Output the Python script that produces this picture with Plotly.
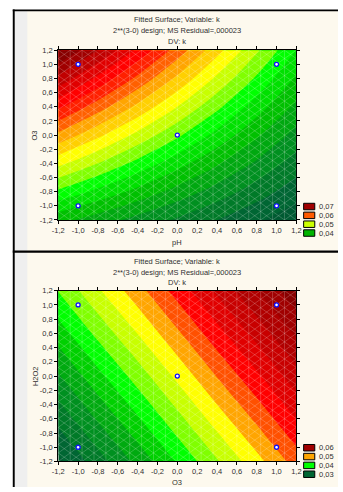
import plotly.graph_objects as go

W, H = 343, 492

# ---------------- data ----------------
grid_axis = [-1.2, -0.8, -0.4, 0.0, 0.4, 0.8, 1.2]

# fitted k over pH (columns) and O3 (rows, from O3=-1.2 up to 1.2)
k_ph_o3 = [
    [0.0408, 0.0387, 0.0366, 0.0346, 0.0325, 0.0304, 0.0283],
    [0.0470, 0.0443, 0.0417, 0.0390, 0.0364, 0.0337, 0.0311],
    [0.0532, 0.0500, 0.0467, 0.0435, 0.0403, 0.0371, 0.0338],
    [0.0594, 0.0556, 0.0518, 0.0480, 0.0442, 0.0404, 0.0366],
    [0.0656, 0.0612, 0.0569, 0.0525, 0.0481, 0.0437, 0.0394],
    [0.0718, 0.0669, 0.0619, 0.0570, 0.0520, 0.0471, 0.0421],
    [0.0780, 0.0725, 0.0670, 0.0614, 0.0559, 0.0504, 0.0449],
]

# fitted k over O3 (columns) and H2O2 (rows, from H2O2=-1.2 up to 1.2)
k_o3_h2o2 = [
    [0.0295, 0.0331, 0.0366, 0.0402, 0.0438, 0.0473, 0.0509],
    [0.0316, 0.0352, 0.0387, 0.0423, 0.0459, 0.0494, 0.0530],
    [0.0337, 0.0373, 0.0408, 0.0444, 0.0480, 0.0515, 0.0551],
    [0.0358, 0.0394, 0.0429, 0.0465, 0.0501, 0.0536, 0.0572],
    [0.0379, 0.0415, 0.0450, 0.0486, 0.0522, 0.0557, 0.0593],
    [0.0400, 0.0436, 0.0471, 0.0507, 0.0543, 0.0578, 0.0614],
    [0.0421, 0.0457, 0.0492, 0.0528, 0.0564, 0.0599, 0.0635],
]

design_x = [-1, -1, 0, 1, 1]
design_y = [-1, 1, 0, -1, 1]

tick_vals = [-1.2, -1.0, -0.8, -0.6, -0.4, -0.2, 0.0, 0.2, 0.4, 0.6, 0.8, 1.0, 1.2]
tick_text = ["-1,2", "-1,0", "-0,8", "-0,6", "-0,4", "-0,2", "0,0",
             "0,2", "0,4", "0,6", "0,8", "1,0", "1,2"]

top_levels = dict(start=0.030, end=0.0775, size=0.0025)
bottom_levels = dict(start=0.030, end=0.064, size=0.002)

legend_top_labels = ["0,07", "0,06", "0,05", "0,04"]
legend_bottom_labels = ["0,06", "0,05", "0,04", "0,03"]

title_lines = ["Fitted Surface; Variable: k",
               "2**(3-0) design; MS Residual=,000023",
               "DV: k"]

# ---------------- styles ----------------
top_band_colors = ["#005a32", "#006633", "#007a28", "#009020", "#00a810",
                   "#00c000", "#00e000", "#00ff00", "#80ff00", "#c8ff00",
                   "#ffff00", "#ffd000", "#ffa500", "#ff6000", "#ff2000",
                   "#ff0000", "#e00000", "#c00000", "#a00000", "#880000",
                   "#700000"]
bottom_band_colors = ["#005a32", "#006633", "#007a28", "#009020", "#00aa10",
                      "#00d000", "#00ff00", "#80ff00", "#c8ff00", "#ffff00",
                      "#ffa500", "#ff5000", "#ff0000", "#e00000", "#c80000",
                      "#b00000", "#a00000", "#880000", "#700000"]
legend_top_colors = ["#a00000", "#ff5a00", "#ccff00", "#00b400"]
legend_bottom_colors = ["#a00000", "#ffa500", "#00ff00", "#006633"]

FONT = "Liberation Sans, Arial, sans-serif"
TXT = "#303030"
CREAM = "#fdf9ee"


def band_scale(colors):
    n = len(colors) - 1
    return [[i / n, c] for i, c in enumerate(colors)]


def px(x):
    return x / W


def py(y):
    return 1 - y / H


# mesh overlay (decorative wireframe)
mesh_step = 0.12
mesh_n = 20
mx, my = [], []
for i in range(mesh_n + 1):
    v = -1.2 + i * mesh_step
    mx += [v, v, None]
    my += [-1.2, 1.2, None]
for k in range(-2 * mesh_n, 2 * mesh_n + 1):
    c = k * mesh_step
    mx += [-2.4, 2.4, None]
    my += [-2.4 + c, 2.4 + c, None]
    mx += [-2.4, 2.4, None]
    my += [2.4 + c, -2.4 + c, None]

fig = go.Figure()

panels = [
    dict(z=k_ph_o3, lv=top_levels, cols=top_band_colors, xa="x", ya="y"),
    dict(z=k_o3_h2o2, lv=bottom_levels, cols=bottom_band_colors, xa="x2", ya="y2"),
]
for p in panels:
    fig.add_trace(go.Contour(
        x=grid_axis, y=grid_axis, z=p["z"],
        autocontour=False,
        contours=dict(start=p["lv"]["start"], end=p["lv"]["end"],
                      size=p["lv"]["size"], coloring="fill", showlines=False),
        colorscale=band_scale(p["cols"]),
        line=dict(width=0, smoothing=1),
        showscale=False, hoverinfo="skip",
        xaxis=p["xa"], yaxis=p["ya"],
    ))
    fig.add_trace(go.Scatter(
        x=mx, y=my, mode="lines",
        line=dict(color="rgba(255,255,255,0.25)", width=0.8),
        hoverinfo="skip", showlegend=False,
        xaxis=p["xa"], yaxis=p["ya"],
    ))
    fig.add_trace(go.Scatter(
        x=design_x, y=design_y, mode="markers",
        marker=dict(size=4, color="white", line=dict(color="#1010ff", width=1.3)),
        hoverinfo="skip", showlegend=False,
        xaxis=p["xa"], yaxis=p["ya"],
    ))

# plot areas (pixels)
X0, X1 = 54, 300
TOP = (47, 220)
BOT = (292, 466)

axis_common = dict(
    range=[-1.2, 1.2], tickvals=tick_vals, ticktext=tick_text,
    showline=True, linecolor="#000000", linewidth=1, mirror="ticks",
    ticks="outside", ticklen=3, tickcolor="#000000", tickwidth=1,
    showgrid=False, zeroline=False,
    tickfont=dict(family=FONT, size=7.5, color=TXT),
    fixedrange=True,
)
fig.update_layout(
    xaxis=dict(axis_common, domain=[px(X0), px(X1)], anchor="y"),
    yaxis=dict(axis_common, domain=[py(TOP[1]), py(TOP[0])], anchor="x"),
    xaxis2=dict(axis_common, domain=[px(X0), px(X1)], anchor="y2"),
    yaxis2=dict(axis_common, domain=[py(BOT[1]), py(BOT[0])], anchor="x2"),
)

shapes = [
    dict(type="rect", xref="paper", yref="paper", x0=px(8), x1=1, y0=0, y1=py(7),
         fillcolor=CREAM, line=dict(width=0), layer="below"),
    dict(type="rect", xref="paper", yref="paper", x0=px(8), x1=px(22), y0=0, y1=py(7),
         fillcolor="#efefef", line=dict(width=0), layer="below"),
    dict(type="rect", xref="paper", yref="paper", x0=px(7), x1=px(9), y0=0, y1=py(5.5),
         fillcolor="#000000", line=dict(width=0), layer="below"),
    dict(type="rect", xref="paper", yref="paper", x0=px(7), x1=1, y0=py(7.5), y1=py(5.5),
         fillcolor="#000000", line=dict(width=0), layer="below"),
    dict(type="rect", xref="paper", yref="paper", x0=px(7), x1=1, y0=py(253.3), y1=py(251),
         fillcolor="#000000", line=dict(width=0), layer="below"),
]

annotations = []


def text(x, y, s, anchor="center", angle=0, size=7.5):
    annotations.append(dict(
        xref="paper", yref="paper", x=px(x), y=py(y), text=s, showarrow=False,
        xanchor=anchor, yanchor="middle", textangle=angle,
        font=dict(family=FONT, size=size, color=TXT)))


for base, xlab, ylab, ycen, labels, lcols, lrows in [
    (0, "pH", "O3", 134, legend_top_labels, legend_top_colors, [206.3, 215.3, 224.3, 233.3]),
    (246, "O3", "H2O2", 379, legend_bottom_labels, legend_bottom_colors, [452, 461, 470, 479]),
]:
    for i, t in enumerate(title_lines):
        text(177, base + 16 + 11 * i, t)
    text(177, base + 243 if base == 0 else 487.5, xlab)
    text(30, ycen, ylab, angle=-90)
    for lab, col, cy in zip(labels, lcols, lrows):
        shapes.append(dict(type="rect", xref="paper", yref="paper",
                           x0=px(307.5), x1=px(319), y0=py(cy + 3.3), y1=py(cy - 3.3),
                           fillcolor=col, line=dict(color="#000000", width=1)))
        text(321.5, cy, lab, anchor="left")

fig.update_layout(
    width=W, height=H,
    margin=dict(l=0, r=0, t=0, b=0),
    paper_bgcolor="#ffffff", plot_bgcolor=CREAM,
    showlegend=False,
    shapes=shapes, annotations=annotations,
    font=dict(family=FONT, size=7.5, color=TXT),
)

fig.write_html("out.html", config={"displayModeBar": False},
               post_script="document.body.style.margin='0';document.body.style.overflow='hidden';")
